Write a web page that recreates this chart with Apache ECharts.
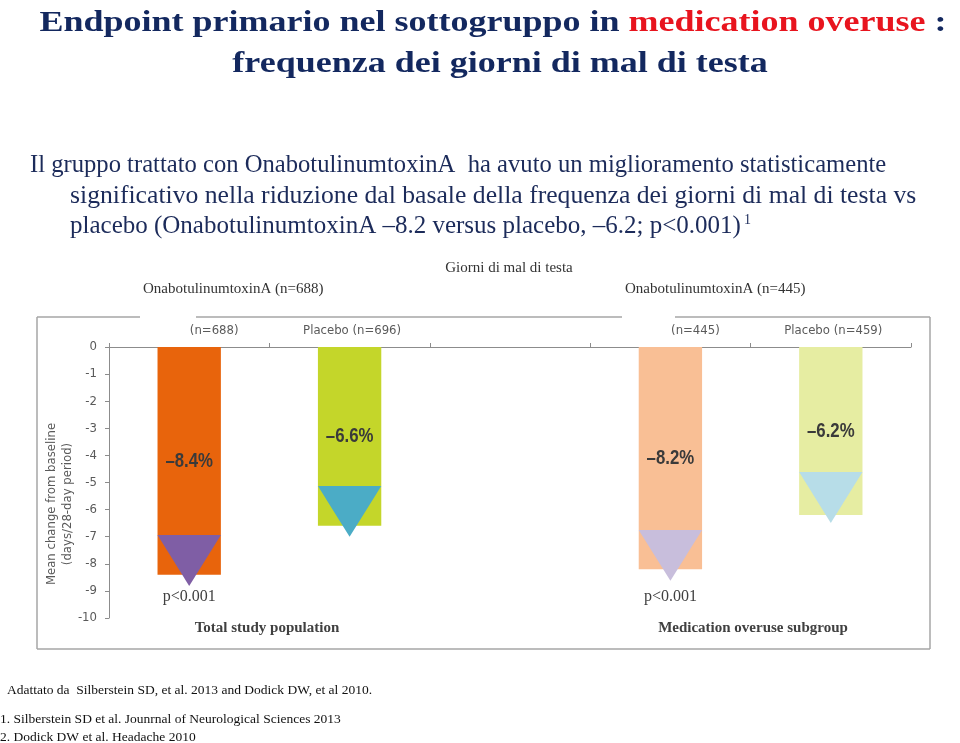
<!DOCTYPE html>
<html>
<head>
<meta charset="utf-8">
<script src="https://cdn.jsdelivr.net/npm/echarts@6/dist/echarts.min.js"></script>
<style>
html,body{margin:0;padding:0;background:#fff;}
#chart{width:960px;height:743px;}
</style>
</head>
<body>
<div id="chart"></div>
<script>
// ---- data ----
var categories = ['(n=688)', 'Placebo (n=696)', '', '(n=445)', 'Placebo (n=459)'];
var changeValues = [-8.4, -6.6, null, -8.2, -6.2];
var barLabels = ['\u20138.4%', '\u20136.6%', '', '\u20138.2%', '\u20136.2%'];
var barColors = ['#E8640C', '#C4D62A', 'transparent', '#F9BF95', '#E6EDA2'];
var arrowTop = [-6.94, -5.13, null, -6.75, -4.61];
var arrowTip = [-8.82, -7.0, null, -8.63, -6.49];
var arrowColors = ['#7F5EA5', '#4BACC6', 'transparent', '#C8BEDC', '#B7DDE8'];
var pValues = ['p<0.001', '', '', 'p<0.001', ''];
var pValueLevel = -9.2;
var yTicks = [0, -1, -2, -3, -4, -5, -6, -7, -8, -9, -10];

var NARROW = "'DejaVu Sans Condensed','Liberation Sans',sans-serif";
var SANS = "'Liberation Sans',Arial,sans-serif";
var SERIF = "'Liberation Serif','DejaVu Serif',serif";

var chart = echarts.init(document.getElementById('chart'), null, {renderer: 'canvas'});

var barData = changeValues.map(function (v, i) {
  return v === null ? null : {value: v, itemStyle: {color: barColors[i]}};
});
var arrowData = [];
var labelData = [];
for (var i = 0; i < categories.length; i++) {
  if (arrowTop[i] !== null) arrowData.push([i, arrowTop[i], arrowTip[i]]);
  if (changeValues[i] !== null) labelData.push([i, changeValues[i]]);
}

var option = {
  animation: false,
  backgroundColor: '#ffffff',
  grid: {left: 109, right: 49, top: 347, bottom: 125},
  xAxis: {
    type: 'category',
    position: 'top',
    data: categories,
    axisLine: {lineStyle: {color: '#8C8C8C', width: 1}},
    axisTick: {show: true, length: 4, lineStyle: {color: '#8C8C8C'}},
    axisLabel: {
      interval: 0,
      hideOverlap: false,
      margin: 10,
      color: '#5A5A5A',
      fontFamily: NARROW,
      fontSize: 13,
      formatter: function (v) {
        if (v.indexOf('Placebo') === 0) return '{p|' + v + '}';
        if (v === '') return '';
        return '{n|' + v + '}';
      },
      rich: {
        n: {color: '#5A5A5A', fontFamily: NARROW, fontSize: 13, padding: [0, 0, 0, 50]},
        p: {color: '#5A5A5A', fontFamily: NARROW, fontSize: 13, padding: [0, 0, 0, 5]}
      }
    },
    splitLine: {show: false}
  },
  yAxis: {
    type: 'value',
    min: -10,
    max: 0,
    interval: 1,
    axisLine: {show: true, lineStyle: {color: '#8C8C8C'}},
    axisTick: {show: true, length: 4, lineStyle: {color: '#8C8C8C'}},
    axisLabel: {color: '#5A5A5A', fontFamily: NARROW, fontSize: 13, margin: 12},
    splitLine: {show: false}
  },
  series: [
    {
      type: 'bar',
      data: barData,
      barWidth: '39.5%',
      z: 2
    },
    {
      type: 'custom',
      data: arrowData,
      z: 3,
      renderItem: function (params, api) {
        var idx = api.value(0);
        var top = api.coord([idx, api.value(1)]);
        var tip = api.coord([idx, api.value(2)]);
        var half = api.size([1, 0])[0] * 0.395 / 2;
        var children = [{
          type: 'polygon',
          shape: {points: [[top[0] - half, top[1]], [top[0] + half, top[1]], [tip[0], tip[1]]]},
          style: {fill: arrowColors[idx]}
        }];
        if (pValues[idx]) {
          var pp = api.coord([idx, pValueLevel]);
          children.push({
            type: 'text',
            style: {
              text: pValues[idx], x: pp[0], y: pp[1],
              align: 'center', verticalAlign: 'middle',
              fill: '#404040', font: '16px ' + SERIF
            }
          });
        }
        return {type: 'group', children: children};
      }
    },
    {
      type: 'custom',
      data: labelData,
      z: 4,
      renderItem: function (params, api) {
        var idx = api.value(0);
        var mid = api.coord([idx, api.value(1) / 2]);
        return {
          type: 'text',
          x: mid[0], y: mid[1],
          scaleX: 0.8,
          style: {
            text: barLabels[idx], x: 0, y: 0,
            align: 'center', verticalAlign: 'middle',
            fill: '#3A3A3A', font: 'bold 21px ' + SANS
          }
        };
      }
    }
  ],
  graphic: [
    // title
    {type: 'text', x: 493, y: 8, scaleX: 1.2, style: {
      text: '{a|Endpoint primario nel sottogruppo in }{b|medication overuse}{a| :}',
      x: 0, y: 0, align: 'center', verticalAlign: 'top',
      rich: {
        a: {fill: '#13285F', font: 'bold 30px ' + SERIF},
        b: {fill: '#E8141E', font: 'bold 30px ' + SERIF}
      }
    }},
    {type: 'text', x: 500, y: 49, scaleX: 1.2, style: {
      text: 'frequenza dei giorni di mal di testa', x: 0, y: 0,
      align: 'center', verticalAlign: 'top',
      fill: '#13285F', font: 'bold 30px ' + SERIF
    }},
    // paragraph
    {type: 'text', x: 30, y: 165, scaleX: 0.985, style: {
      text: 'Il gruppo trattato con OnabotulinumtoxinA  ha avuto un miglioramento statisticamente',
      x: 0, y: 0, align: 'left', verticalAlign: 'middle',
      fill: '#1C2B5A', font: '25px ' + SERIF
    }},
    {type: 'text', x: 70, y: 196, scaleX: 1.027, style: {
      text: 'significativo nella riduzione dal basale della frequenza dei giorni di mal di testa vs',
      x: 0, y: 0, align: 'left', verticalAlign: 'middle',
      fill: '#1C2B5A', font: '25px ' + SERIF
    }},
    {type: 'text', x: 70, y: 226, scaleX: 1.0, style: {
      text: 'placebo (OnabotulinumtoxinA \u20138.2 versus placebo, \u20136.2; p<0.001){s|1}',
      x: 0, y: 0, align: 'left', verticalAlign: 'middle',
      fill: '#1C2B5A', font: '25px ' + SERIF,
      rich: {s: {fill: '#1C2B5A', font: '14px ' + SERIF, verticalAlign: 'top', padding: [0, 0, 12, 3]}}
    }},
    // headers
    {type: 'text', x: 509, y: 268, style: {
      text: 'Giorni di mal di testa', align: 'center', verticalAlign: 'middle',
      fill: '#333333', font: '15px ' + SERIF
    }},
    {type: 'text', x: 143, y: 289, style: {
      text: 'OnabotulinumtoxinA (n=688)', align: 'left', verticalAlign: 'middle',
      fill: '#333333', font: '15px ' + SERIF
    }},
    {type: 'text', x: 625, y: 289, style: {
      text: 'OnabotulinumtoxinA (n=445)', align: 'left', verticalAlign: 'middle',
      fill: '#333333', font: '15px ' + SERIF
    }},
    // frame
    {type: 'line', shape: {x1: 37, y1: 317, x2: 37, y2: 649}, style: {stroke: '#A6A6A6', lineWidth: 1.5}},
    {type: 'line', shape: {x1: 930, y1: 317, x2: 930, y2: 649}, style: {stroke: '#A6A6A6', lineWidth: 1.5}},
    {type: 'line', shape: {x1: 37, y1: 649, x2: 930, y2: 649}, style: {stroke: '#A6A6A6', lineWidth: 1.5}},
    {type: 'line', shape: {x1: 37, y1: 317, x2: 140, y2: 317}, style: {stroke: '#A6A6A6', lineWidth: 1.5}},
    {type: 'line', shape: {x1: 196, y1: 317, x2: 622, y2: 317}, style: {stroke: '#A6A6A6', lineWidth: 1.5}},
    {type: 'line', shape: {x1: 675, y1: 317, x2: 930, y2: 317}, style: {stroke: '#A6A6A6', lineWidth: 1.5}},
    // y-axis name
    {type: 'text', x: 60, y: 504, rotation: Math.PI / 2, style: {
      text: 'Mean change from baseline\n(days/28-day period)', align: 'center', verticalAlign: 'middle',
      fill: '#5A5A5A', font: '13px ' + NARROW, lineHeight: 16
    }},
    // group labels
    {type: 'text', x: 267, y: 628, style: {
      text: 'Total study population', align: 'center', verticalAlign: 'middle',
      fill: '#404040', font: 'bold 15px ' + SERIF
    }},
    {type: 'text', x: 753, y: 628, style: {
      text: 'Medication overuse subgroup', align: 'center', verticalAlign: 'middle',
      fill: '#404040', font: 'bold 15px ' + SERIF
    }},
    // footer
    {type: 'text', left: 7, top: 683, style: {
      text: 'Adattato da  Silberstein SD, et al. 2013 and Dodick DW, et al 2010.',
      fill: '#111111', font: '13.5px ' + SERIF
    }},
    {type: 'text', left: 0, top: 712, style: {
      text: '1. Silberstein SD et al. Jounrnal of Neurological Sciences 2013',
      fill: '#111111', font: '13.5px ' + SERIF
    }},
    {type: 'text', left: 0, top: 730, style: {
      text: '2. Dodick DW et al. Headache 2010',
      fill: '#111111', font: '13.5px ' + SERIF
    }}
  ]
};
chart.setOption(option);
</script>
</body>
</html>
